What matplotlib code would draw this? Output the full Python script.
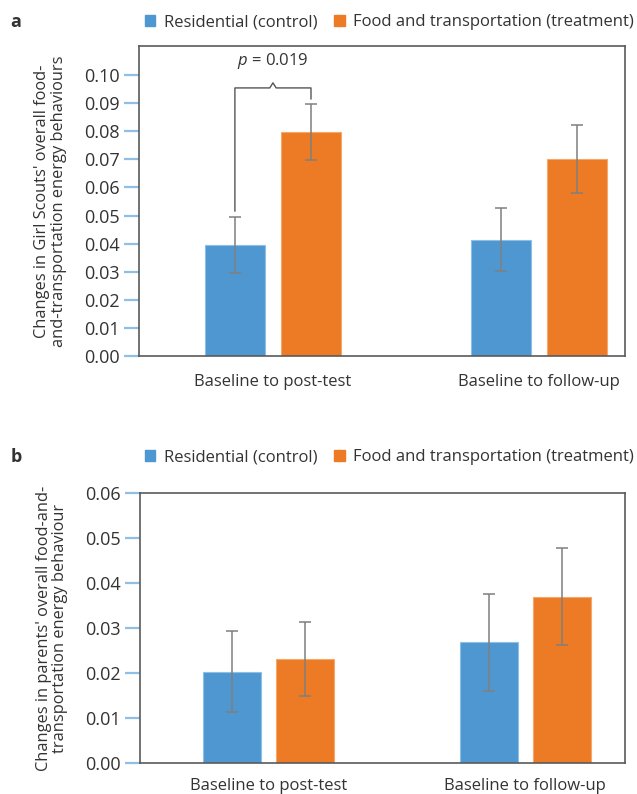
import numpy as np
import matplotlib.pyplot as plt
from matplotlib.patches import Patch

# === Data ===
groups = ["Baseline to post-test", "Baseline to follow-up"]
series = ["Residential (control)", "Food and transportation (treatment)"]

girls_control = [0.0395, 0.0413]
girls_control_err = [0.0101, 0.0112]
girls_treat = [0.0797, 0.0700]
girls_treat_err = [0.0099, 0.0121]

parents_control = [0.0203, 0.0268]
parents_control_err = [0.0090, 0.0108]
parents_treat = [0.0231, 0.0370]
parents_treat_err = [0.0083, 0.0107]

p_label = r"$\it{p}$ = 0.019"

blue = "#4f97d1"
orange = "#ed7a24"
text_c = "#333333"
spine_c = "#5a5a5a"
tick_c = "#8fbfe6"
err_c = "#7f7f7f"

plt.rcParams["font.family"] = ["Open Sans", "DejaVu Sans"]
plt.rcParams["text.color"] = text_c
plt.rcParams["mathtext.fontset"] = "custom"
plt.rcParams["mathtext.it"] = "Open Sans:italic"
plt.rcParams["mathtext.rm"] = "Open Sans"

fig = plt.figure(figsize=(6.37, 7.94), dpi=100)
ax_a = fig.add_axes([0.218, 0.5516, 0.763, 0.3904])
ax_b = fig.add_axes([0.2198, 0.039, 0.761, 0.340])

x = np.arange(len(groups))
w = 0.225
off = 0.143


def draw(ax, c, ce, t, te, ylim, yticks, ylabel, xlim, xpad):
    ax.bar(x - off, c, w, color=blue, edgecolor="#8cc0e8", linewidth=0.8, zorder=2)
    ax.bar(x + off, t, w, color=orange, edgecolor="#f4a86c", linewidth=0.8, zorder=2)
    ax.errorbar(x - off, c, yerr=ce, fmt="none", ecolor=err_c, elinewidth=1.1,
                capsize=4, capthick=1.1, zorder=3)
    ax.errorbar(x + off, t, yerr=te, fmt="none", ecolor=err_c, elinewidth=1.1,
                capsize=4, capthick=1.1, zorder=3)
    ax.set_xlim(*xlim)
    ax.set_ylim(*ylim)
    ax.set_yticks(yticks)
    ax.set_yticklabels(["{:.2f}".format(v) for v in yticks])
    ax.set_xticks(x)
    ax.set_xticklabels(groups)
    ax.tick_params(axis="x", length=0, pad=xpad, labelsize=12, labelcolor=text_c)
    ax.tick_params(axis="y", length=11, width=1.6, color=tick_c, direction="out",
                   labelsize=13, labelcolor=text_c, pad=3)
    for s in ax.spines.values():
        s.set_color(spine_c)
        s.set_linewidth(1.2)
    ax.set_ylabel(ylabel, fontsize=11.8, color=text_c, labelpad=12, linespacing=1.05)


draw(ax_a, girls_control, girls_control_err, girls_treat, girls_treat_err,
     (0, 0.1103), np.arange(0, 0.101, 0.01),
     "Changes in Girl Scouts' overall food-\nand-transportation energy behaviours",
     (-0.504, 1.323), 13)
draw(ax_b, parents_control, parents_control_err, parents_treat, parents_treat_err,
     (0, 0.06), np.arange(0, 0.061, 0.01),
     "Changes in parents' overall food-and-\ntransportation energy behaviour",
     (-0.5, 1.387), 11)

# significance bracket
xl, xr = x[0] - off, x[0] + off
xm = x[0]
yh = 0.0954
d = 0.012
ax_a.plot([xl, xl, xm - d, xm, xm + d, xr, xr],
          [0.0516, yh, yh, 0.0972, yh, yh, 0.0915],
          color="#555555", linewidth=1.0, zorder=4, clip_on=False)
ax_a.text(xm, 0.1015, p_label, ha="center", va="bottom", fontsize=12, color=text_c)

# panel letters
fig.text(0.016, 0.972, "a", fontsize=13, fontweight="bold", va="center")
fig.text(0.016, 0.424, "b", fontsize=13, fontweight="bold", va="center")

handles = [Patch(color=blue, label=series[0]), Patch(color=orange, label=series[1])]
for yy in [0.972, 0.424]:
    fig.legend(handles=handles, loc="center right", bbox_to_anchor=(0.995, yy), ncol=2,
               frameon=False, fontsize=12, handlelength=0.65, handleheight=0.65,
               handletextpad=0.5, columnspacing=1.0, borderaxespad=0, borderpad=0)

fig.savefig("out.png", dpi=100)
